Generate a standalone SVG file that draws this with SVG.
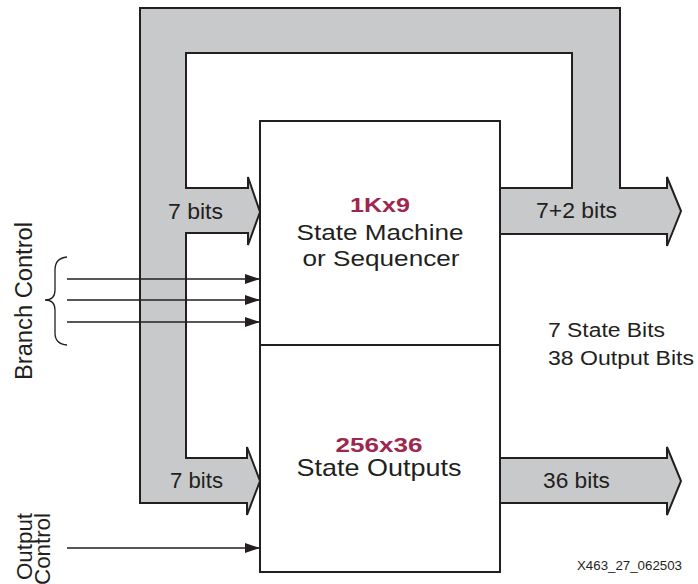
<svg xmlns="http://www.w3.org/2000/svg" width="698" height="584" viewBox="0 0 698 584">
<style>
.bus{fill:#c8c9cb;stroke:#231f20;stroke-width:2;stroke-linejoin:miter}
.box{fill:#fff;stroke:#231f20;stroke-width:2}
.wire{fill:none;stroke:#231f20;stroke-width:1.3}
.t{font-family:"Liberation Sans",Arial,sans-serif;fill:#231f20}
.h{font-family:"Liberation Sans",Arial,sans-serif;font-weight:bold;fill:#9e2750}
</style>
<defs>
<marker id="ah" markerUnits="userSpaceOnUse" markerWidth="15" markerHeight="10" refX="15" refY="5" orient="auto">
<path d="M0,0 L15,5 L0,10 Z" fill="#231f20"/>
</marker>
</defs>
<g id="connectors">
<path id="feedback-bus" class="bus" d="M140,8 H620 V188 H667 V177 L681,211 L667,246 V234 H500 V188 H572 V53 H186 V188 H248 V177 L260,212 L248,245 V233 H186 V458 H247 V447 L260,481 L247,515 V503 H140 Z"/>
<path id="output-bus" class="bus" d="M500,458 H667 V447 L681,481 L667,515 V503 H500 Z"/>
<line class="wire" x1="67" y1="279" x2="260" y2="279" marker-end="url(#ah)"/>
<line class="wire" x1="67" y1="300" x2="260" y2="300" marker-end="url(#ah)"/>
<line class="wire" x1="67" y1="322" x2="260" y2="322" marker-end="url(#ah)"/>
<line class="wire" x1="67" y1="548" x2="260" y2="548" marker-end="url(#ah)"/>
<path class="wire" d="M67,257 Q55,258 55,270 V290 Q55,300 45,300 Q55,300 55,310 V333 Q55,344 67,345"/>
</g>
<g id="sequencer">
<rect class="box" x="260" y="121" width="240" height="224"/>
<text class="h" x="380" y="212" font-size="21" text-anchor="middle" textLength="60" lengthAdjust="spacingAndGlyphs">1Kx9</text>
<text class="t" x="380" y="240" font-size="22.5" text-anchor="middle" textLength="167" lengthAdjust="spacingAndGlyphs">State Machine</text>
<text class="t" x="381" y="266" font-size="22.5" text-anchor="middle" textLength="157" lengthAdjust="spacingAndGlyphs">or Sequencer</text>
</g>
<g id="outputs">
<rect class="box" x="260" y="345" width="240" height="227"/>
<text class="h" x="379" y="451.5" font-size="21" text-anchor="middle" textLength="87" lengthAdjust="spacingAndGlyphs">256x36</text>
<text class="t" x="379" y="476" font-size="24" text-anchor="middle" textLength="165" lengthAdjust="spacingAndGlyphs">State Outputs</text>
</g>
<g id="labels">
<text class="t" x="168" y="219" font-size="22" textLength="55" lengthAdjust="spacingAndGlyphs">7 bits</text>
<text class="t" x="536" y="218" font-size="22" textLength="81" lengthAdjust="spacingAndGlyphs">7+2 bits</text>
<text class="t" x="170" y="488" font-size="22" textLength="53" lengthAdjust="spacingAndGlyphs">7 bits</text>
<text class="t" x="543" y="488" font-size="22" textLength="67" lengthAdjust="spacingAndGlyphs">36 bits</text>
<text class="t" x="548" y="337" font-size="20" textLength="117" lengthAdjust="spacingAndGlyphs">7 State Bits</text>
<text class="t" x="548" y="365" font-size="20" textLength="146" lengthAdjust="spacingAndGlyphs">38 Output Bits</text>
<text class="t" x="577" y="570" font-size="13" textLength="105" lengthAdjust="spacingAndGlyphs">X463_27_062503</text>
<text class="t" transform="translate(32,301) rotate(-90)" font-size="23" text-anchor="middle" textLength="158" lengthAdjust="spacingAndGlyphs">Branch Control</text>
<text class="t" transform="translate(31.5,546.5) rotate(-90)" font-size="22.5" text-anchor="middle" textLength="67" lengthAdjust="spacingAndGlyphs">Output</text>
<text class="t" transform="translate(50,549) rotate(-90)" font-size="22.5" text-anchor="middle" textLength="72" lengthAdjust="spacingAndGlyphs">Control</text>
</g>
</svg>
